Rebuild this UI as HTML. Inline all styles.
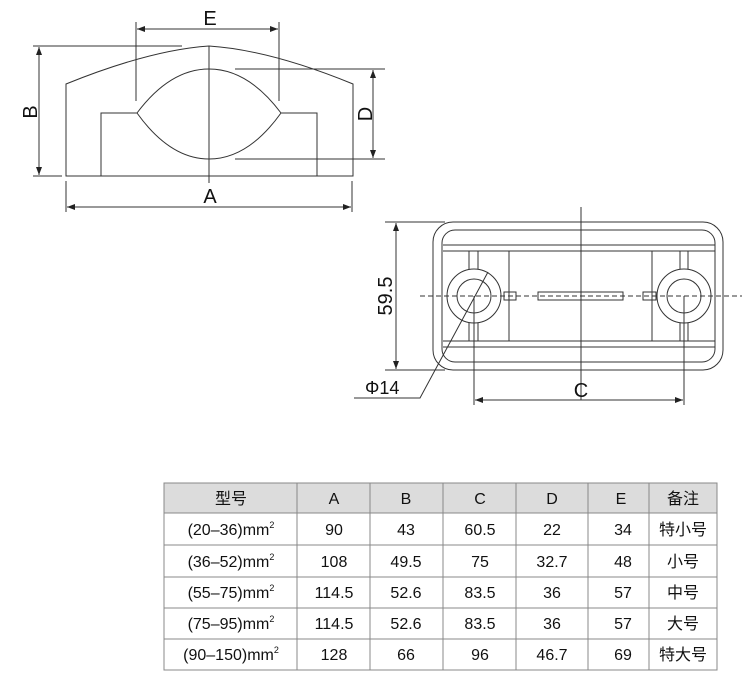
<!DOCTYPE html>
<html><head><meta charset="utf-8"><style>
html,body{margin:0;padding:0;background:#fff;}
svg{display:block;}
text{font-family:"Liberation Sans","Noto Sans CJK SC",sans-serif;fill:#111;}
</style></head><body>
<svg width="750" height="679" viewBox="0 0 750 679" xmlns="http://www.w3.org/2000/svg">
<defs>
<marker id="ar" markerWidth="8" markerHeight="6" refX="8" refY="3" orient="auto-start-reverse" markerUnits="userSpaceOnUse">
<path d="M0,0 L8,3 L0,6 z" fill="#222"/></marker>
</defs>
<g fill="none" stroke="#333" stroke-width="1">
<path d="M66,176 L66,84 Q150,50 209,46 Q270,50 353,84 L353,176 Z"/>
<path d="M101,176 L101,113 L137,113"/>
<path d="M317,176 L317,113 L281,113"/>
<path d="M137,113 Q170,69 209,69 Q248,69 281,113 Q248,159 209,159 Q170,159 137,113 Z"/>
<line x1="209" y1="46" x2="209" y2="183"/>
<line x1="136" y1="22" x2="136" y2="101"/>
<line x1="279" y1="22" x2="279" y2="101"/>
<line x1="137" y1="29" x2="278" y2="29" marker-start="url(#ar)" marker-end="url(#ar)"/>
<line x1="33" y1="46" x2="182" y2="46"/>
<line x1="33" y1="176" x2="62" y2="176"/>
<line x1="39" y1="47" x2="39" y2="175" marker-start="url(#ar)" marker-end="url(#ar)"/>
<line x1="235" y1="69" x2="385" y2="69"/>
<line x1="235" y1="159" x2="385" y2="159"/>
<line x1="373" y1="70" x2="373" y2="158" marker-start="url(#ar)" marker-end="url(#ar)"/>
<line x1="66" y1="181" x2="66" y2="212"/>
<line x1="352" y1="181" x2="352" y2="212"/>
<line x1="67" y1="207" x2="351" y2="207" marker-start="url(#ar)" marker-end="url(#ar)"/>

<rect x="433" y="222" width="290" height="148" rx="20"/>
<rect x="442" y="230" width="273" height="132" rx="13"/>
<line x1="443" y1="245" x2="715" y2="245"/>
<line x1="443" y1="251" x2="715" y2="251"/>
<line x1="443" y1="341" x2="715" y2="341"/>
<line x1="443" y1="347" x2="715" y2="347"/>
<line x1="469" y1="251" x2="469" y2="341"/>
<line x1="478" y1="251" x2="478" y2="341"/>
<line x1="680" y1="251" x2="680" y2="341"/>
<line x1="688" y1="251" x2="688" y2="341"/>
<line x1="509" y1="251" x2="509" y2="341"/>
<line x1="652" y1="251" x2="652" y2="341"/>
<circle cx="474" cy="296" r="27" fill="#fff"/>
<circle cx="474" cy="296" r="17"/>
<circle cx="684" cy="296" r="27" fill="#fff"/>
<circle cx="684" cy="296" r="17"/>
<rect x="504" y="292" width="12" height="8"/>
<rect x="538" y="292" width="85" height="8"/>
<rect x="643" y="292" width="13" height="8"/>
<line x1="420" y1="296" x2="742" y2="296" stroke-dasharray="5,3"/>
<line x1="581" y1="207" x2="581" y2="400"/>
<line x1="385" y1="222" x2="445" y2="222"/>
<line x1="385" y1="370" x2="445" y2="370"/>
<line x1="396" y1="223" x2="396" y2="369" marker-start="url(#ar)" marker-end="url(#ar)"/>
<polyline points="488,272 420,398 354,398"/>
<line x1="474" y1="296" x2="474" y2="405"/>
<line x1="684" y1="296" x2="684" y2="405"/>
<line x1="475" y1="400" x2="683" y2="400" marker-start="url(#ar)" marker-end="url(#ar)"/>
</g>
<text x="210" y="25" font-size="20" text-anchor="middle">E</text>
<text x="210" y="203" font-size="20" text-anchor="middle">A</text>
<text transform="translate(37,112) rotate(-90)" font-size="20" text-anchor="middle">B</text>
<text transform="translate(372,114) rotate(-90)" font-size="20" text-anchor="middle">D</text>
<text transform="translate(392,296) rotate(-90)" font-size="20" text-anchor="middle">59.5</text>
<text x="365" y="394" font-size="18">Φ14</text>
<text x="581" y="397" font-size="20" text-anchor="middle">C</text>

<rect x="164" y="483" width="553" height="30" fill="#dcdcdc"/>
<g stroke="#888" stroke-width="1" fill="none">
<rect x="164" y="483" width="553" height="187"/>
<line x1="164" y1="513" x2="717" y2="513"/>
<line x1="164" y1="545" x2="717" y2="545"/>
<line x1="164" y1="577" x2="717" y2="577"/>
<line x1="164" y1="608" x2="717" y2="608"/>
<line x1="164" y1="639" x2="717" y2="639"/>
<line x1="297" y1="483" x2="297" y2="670"/>
<line x1="370" y1="483" x2="370" y2="670"/>
<line x1="443" y1="483" x2="443" y2="670"/>
<line x1="516" y1="483" x2="516" y2="670"/>
<line x1="588" y1="483" x2="588" y2="670"/>
<line x1="649" y1="483" x2="649" y2="670"/>
</g>
<g font-size="16" text-anchor="middle">
<text x="231" y="504">型号</text><text x="334" y="504">A</text><text x="406" y="504">B</text><text x="480" y="504">C</text><text x="552" y="504">D</text><text x="621" y="504">E</text><text x="683" y="504">备注</text>
<text x="231" y="535">(20–36)mm<tspan font-size="9" dy="-7">2</tspan></text><text x="334" y="535">90</text><text x="406" y="535">43</text><text x="480" y="535">60.5</text><text x="552" y="535">22</text><text x="623" y="535">34</text><text x="683" y="535">特小号</text>
<text x="231" y="567">(36–52)mm<tspan font-size="9" dy="-7">2</tspan></text><text x="334" y="567">108</text><text x="406" y="567">49.5</text><text x="480" y="567">75</text><text x="552" y="567">32.7</text><text x="623" y="567">48</text><text x="683" y="567">小号</text>
<text x="231" y="598">(55–75)mm<tspan font-size="9" dy="-7">2</tspan></text><text x="334" y="598">114.5</text><text x="406" y="598">52.6</text><text x="480" y="598">83.5</text><text x="552" y="598">36</text><text x="623" y="598">57</text><text x="683" y="598">中号</text>
<text x="231" y="629">(75–95)mm<tspan font-size="9" dy="-7">2</tspan></text><text x="334" y="629">114.5</text><text x="406" y="629">52.6</text><text x="480" y="629">83.5</text><text x="552" y="629">36</text><text x="623" y="629">57</text><text x="683" y="629">大号</text>
<text x="231" y="660">(90–150)mm<tspan font-size="9" dy="-7">2</tspan></text><text x="334" y="660">128</text><text x="406" y="660">66</text><text x="480" y="660">96</text><text x="552" y="660">46.7</text><text x="623" y="660">69</text><text x="683" y="660">特大号</text>
</g>
</svg>
</body></html>
